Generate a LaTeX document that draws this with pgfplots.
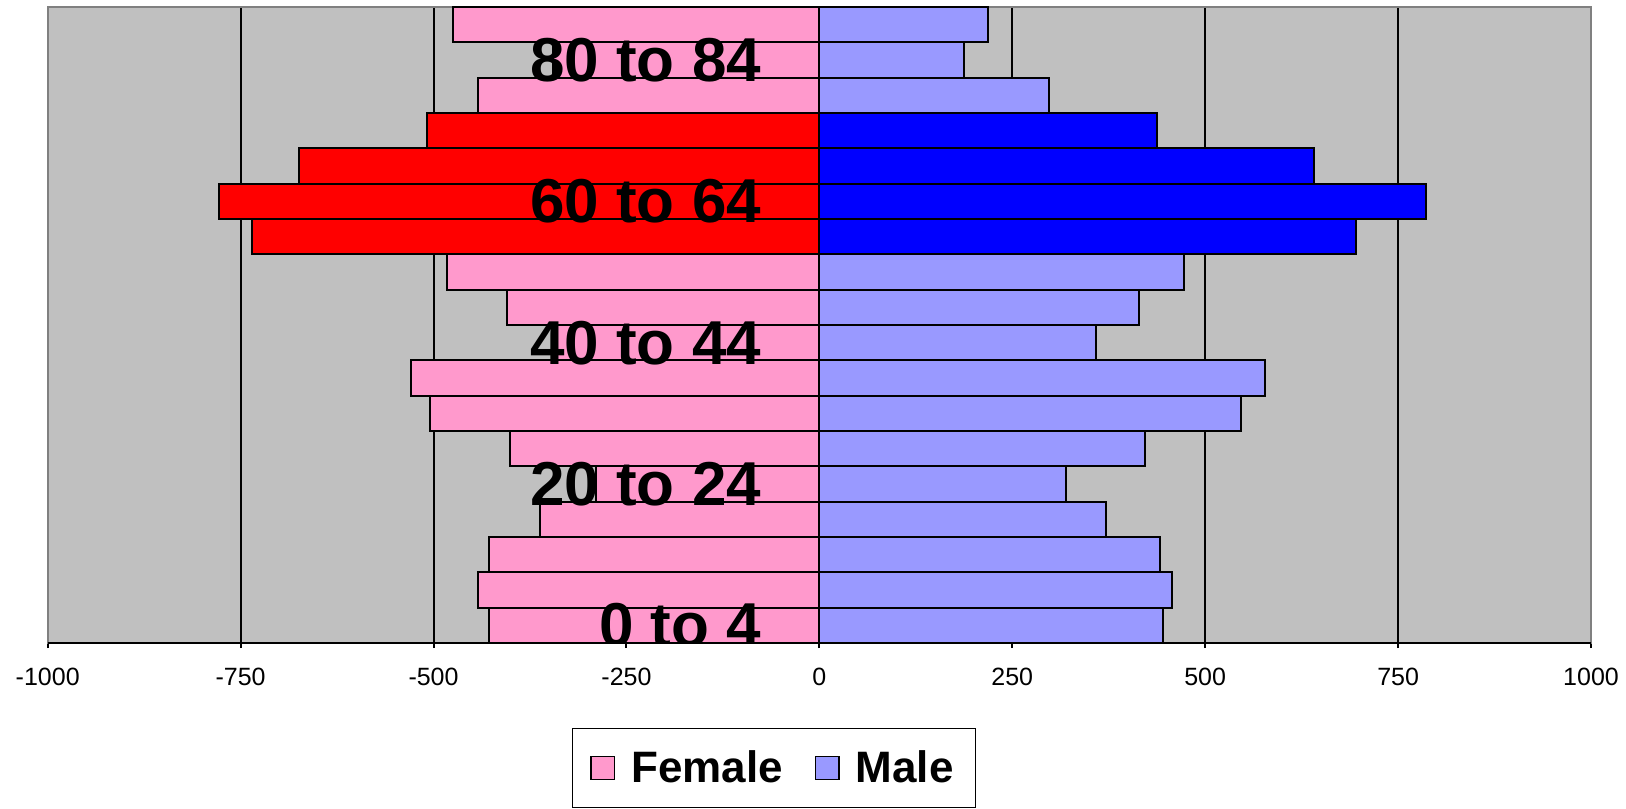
\documentclass[border=0pt]{standalone}
\usepackage{fontspec}
\setmainfont{Liberation Sans}
\usepackage{pgfplots}
\pgfplotsset{compat=1.18}
\definecolor{fpink}{RGB}{255,153,204}
\definecolor{mblue}{RGB}{153,153,255}
\definecolor{bggray}{RGB}{192,192,192}
\definecolor{framegray}{RGB}{128,128,128}
\pgfplotsset{sqlegend/.style={legend image code/.code={\draw[##1,draw=black,line width=0.8pt] (0pt,-5.8pt) rectangle (11.6pt,5.8pt);}}}
\tikzset{catlab/.style={anchor=east, inner sep=0pt, font=\fontsize{31}{31}\selectfont\bfseries}}
\begin{document}
\begin{tikzpicture}
\useasboundingbox (-23.85pt,-82.5pt) rectangle (789.15pt,321.5pt);
\begin{axis}[
  at={(0,0)}, anchor=south west,
  scale only axis, width=771.65pt, height=318pt,
  xmin=-1000, xmax=1000, ymin=-0.5, ymax=17.5,
  enlargelimits=false,
  xtick={-1000,-750,-500,-250,0,250,500,750,1000},
  ytick=\empty,
  xtick pos=left,
  tick align=outside,
  major tick length=2.5pt,
  tick style={black, line width=1pt},
  xmajorgrids,
  major grid style={black, line width=1pt},
  axis background/.style={fill=bggray},
  axis line style={draw=framegray, line width=1pt},
  /pgf/number format/assume math mode=true,
  /pgf/number format/1000 sep={},
  xticklabel style={font=\fontsize{12.5}{12.5}\selectfont, yshift=-6.5pt},
  legend columns=2,
  legend style={at={(0.4706,-0.1965)}, anchor=center, draw=black, line width=0.8pt,
    fill=white, font=\fontsize{22}{22}\selectfont\bfseries,
    inner xsep=9pt, inner ysep=9pt,
    /tikz/every odd column/.append style={column sep=6pt},
    /tikz/every even column/.append style={column sep=14pt},
  },
]
\addplot[xbar, bar width=1, bar shift=0pt, fill=fpink, draw=black, line width=1pt, sqlegend]
  coordinates {(-428,0) (-443,1) (-428,2) (-362,3) (-290,4) (-401,5) (-505,6) (-529,7) (-347,8) (-405,9) (-482,10) (-443,15) (-345,16) (-475,17)};
\addplot[xbar, bar width=1, bar shift=0pt, fill=mblue, draw=black, line width=1pt, sqlegend]
  coordinates {(445,0) (457,1) (442,2) (371,3) (320,4) (422,5) (547,6) (578,7) (359,8) (414,9) (473,10) (297,15) (188,16) (219,17)};
\addplot[xbar, bar width=1, bar shift=0pt, fill=red, draw=black, line width=1pt, forget plot]
  coordinates {(-735,11) (-778,12) (-674,13) (-509,14)};
\addplot[xbar, bar width=1, bar shift=0pt, fill=blue, draw=black, line width=1pt, forget plot]
  coordinates {(696,11) (786,12) (641,13) (438,14)};
\legend{Female, Male}
\draw[black, line width=1pt] (rel axis cs:0,0) -- (rel axis cs:1,0);
\node[catlab] at (axis cs:-75,0) {0 to 4};
\node[catlab] at (axis cs:-75,4) {20 to 24};
\node[catlab] at (axis cs:-75,8) {40 to 44};
\node[catlab] at (axis cs:-75,12) {60 to 64};
\node[catlab] at (axis cs:-75,16) {80 to 84};
\end{axis}
\end{tikzpicture}
\end{document}
